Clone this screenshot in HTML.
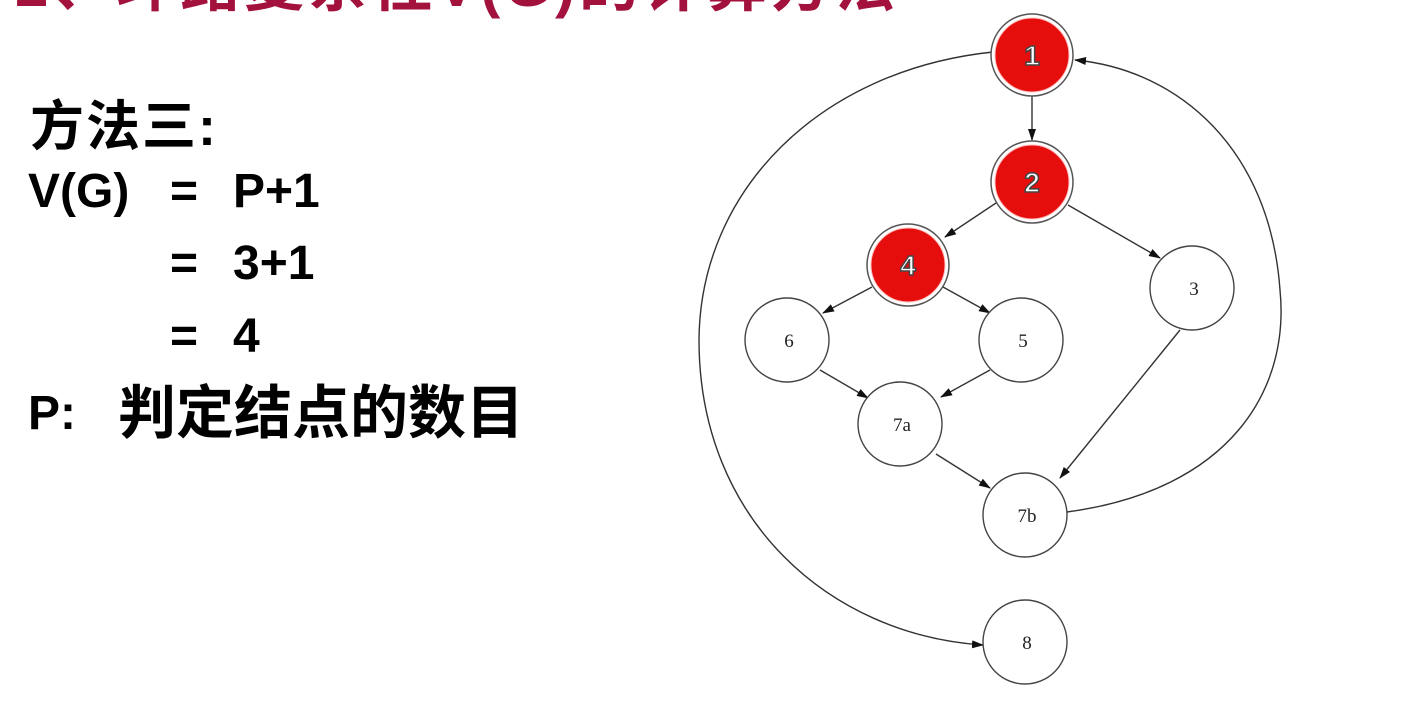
<!DOCTYPE html>
<html><head><meta charset="utf-8"><style>
html,body{margin:0;padding:0;background:#fff;width:1405px;height:716px;overflow:hidden;position:relative}
.t{position:absolute;font-family:"Liberation Sans","Noto Sans CJK SC",sans-serif;font-weight:bold;color:#000;font-size:48px;line-height:48px;white-space:pre}
</style></head><body>
<div class="t" style="left:15px;top:-44px;font-size:60px;line-height:60px;color:#a3123d;letter-spacing:4px;">2、环路复杂性V(G)的计算方法</div>
<div class="t" style="left:30px;top:100px;font-size:54px;line-height:54px;letter-spacing:2px;">方法三:</div>
<div class="t" style="left:28px;top:168px;">V(G)</div>
<div class="t" style="left:170px;top:168px;">=</div>
<div class="t" style="left:233px;top:168px;">P+1</div>
<div class="t" style="left:170px;top:240px;">=</div>
<div class="t" style="left:233px;top:240px;">3+1</div>
<div class="t" style="left:170px;top:313px;">=</div>
<div class="t" style="left:233px;top:313px;">4</div>
<div class="t" style="left:28px;top:390px;">P:</div>
<div class="t" style="left:118px;top:385px;font-size:58px;line-height:58px;">判定结点的数目</div>
<svg width="1405" height="716" style="position:absolute;left:0;top:0">
<defs><marker id="a" markerWidth="12" markerHeight="8" refX="11" refY="4" orient="auto" markerUnits="userSpaceOnUse"><path d="M0,0 L12,4 L0,8 z" fill="#111"/></marker></defs>
<g fill="none" stroke="#333" stroke-width="1.4">
<path d="M993,52 C820,70 700,190 699,340 C699,520 830,635 983,645" marker-end="url(#a)"/>
<path d="M1067,512 C1230,490 1290,390 1280,290 C1270,150 1180,70 1075,60" marker-end="url(#a)"/>
<path d="M1032,96 L1032,140" marker-end="url(#a)"/>
<path d="M996,203 L945,237" marker-end="url(#a)"/>
<path d="M1068,205 L1160,258" marker-end="url(#a)"/>
<path d="M872,287 L823,313" marker-end="url(#a)"/>
<path d="M943,287 L990,313" marker-end="url(#a)"/>
<path d="M820,370 L868,398" marker-end="url(#a)"/>
<path d="M990,370 L941,397" marker-end="url(#a)"/>
<path d="M936,454 L990,488" marker-end="url(#a)"/>
<path d="M1180,330 L1060,478" marker-end="url(#a)"/>
</g>
<g stroke="#555" stroke-width="1.5">
<circle cx="1032" cy="55" r="41" fill="#fff"/><circle cx="1032" cy="55" r="37" fill="#e60d0d" stroke="#fbb" stroke-width="1"/>
<circle cx="1032" cy="182" r="41" fill="#fff"/><circle cx="1032" cy="182" r="37" fill="#e60d0d" stroke="#fbb" stroke-width="1"/>
<circle cx="908" cy="265" r="41" fill="#fff"/><circle cx="908" cy="265" r="37" fill="#e60d0d" stroke="#fbb" stroke-width="1"/>
</g>
<g fill="#fff" stroke="#444" stroke-width="1.4">
<circle cx="787" cy="340" r="42"/><circle cx="1021" cy="340" r="42"/><circle cx="1192" cy="288" r="42"/>
<circle cx="900" cy="424" r="42"/><circle cx="1025" cy="515" r="42"/><circle cx="1025" cy="642" r="42"/>
</g>
<g font-family="Liberation Serif,serif" font-size="19" text-anchor="middle" fill="#222">
<g fill="#fff" stroke="#444" stroke-width="1.5" font-weight="bold" font-size="28" font-family="Liberation Sans,sans-serif">
<text x="1032" y="65">1</text><text x="1032" y="192">2</text><text x="908" y="275">4</text></g>
<text x="789" y="347">6</text><text x="1023" y="347">5</text><text x="1194" y="295">3</text>
<text x="902" y="431">7a</text><text x="1027" y="522">7b</text><text x="1027" y="649">8</text>
</g>
</svg>
</body></html>
